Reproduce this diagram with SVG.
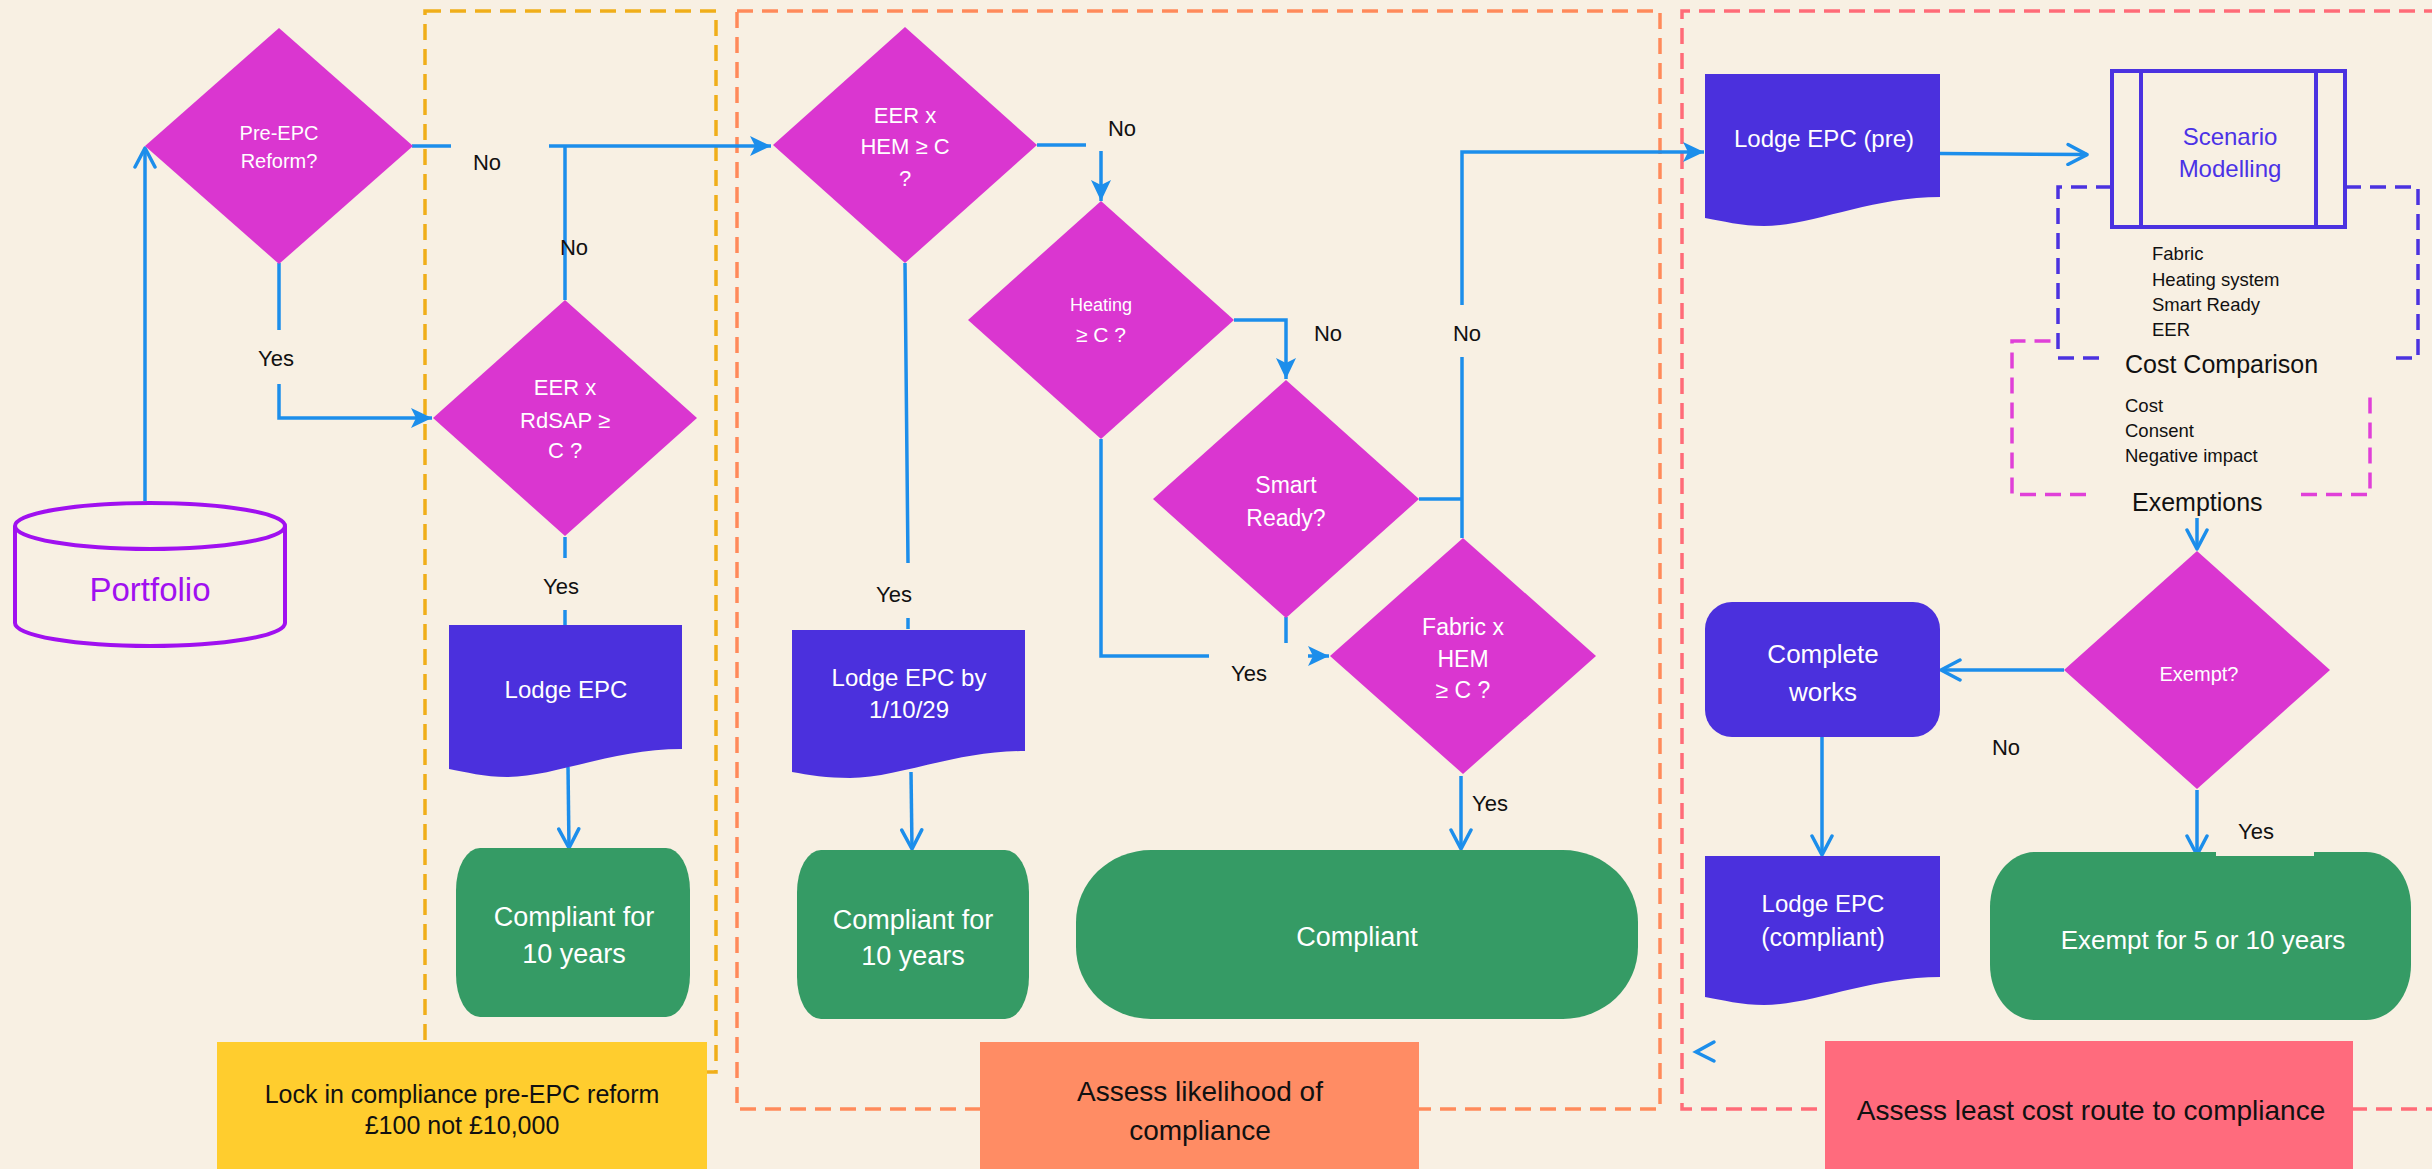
<svg xmlns="http://www.w3.org/2000/svg" width="2432" height="1169" viewBox="0 0 2432 1169">
<defs>
<style>
.bg{fill:#F8F0E3}
.dia{fill:#DA36D0}
.doc{fill:#4B30DD}
.grn{fill:#359B65}
.wt{fill:#FFFFFF;font-family:"Liberation Sans",Arial,sans-serif;text-anchor:middle;dominant-baseline:central}
.lb{fill:#111111;font-family:"Liberation Sans",Arial,sans-serif;text-anchor:middle;dominant-baseline:central}
.ls{fill:#111111;font-family:"Liberation Sans",Arial,sans-serif;text-anchor:start;dominant-baseline:central}
.con{fill:none;stroke:#1C8EEB;stroke-width:3.5}
.dash{fill:none;stroke-width:3.5;stroke-dasharray:16 9}
</style>
<marker id="open" viewBox="0 0 24 24" refX="22" refY="12" markerWidth="24" markerHeight="24" markerUnits="userSpaceOnUse" orient="auto">
<path d="M3,2 L22,12 L3,22" fill="none" stroke="#1C8EEB" stroke-width="3.5" stroke-linecap="round" stroke-linejoin="round"/>
</marker>
<marker id="fill" viewBox="0 0 22 22" refX="21" refY="11" markerWidth="22" markerHeight="22" markerUnits="userSpaceOnUse" orient="auto">
<path d="M0,1 L21,11 L0,21 L5,11 z" fill="#1C8EEB"/>
</marker>
</defs>
<rect class="bg" x="0" y="0" width="2432" height="1169"/>

<g id="regions">
<rect class="dash" x="425" y="11" width="291" height="1061" stroke="#F0AE1A"/>
<rect class="dash" x="737" y="11" width="923" height="1098" stroke="#FF8A5B"/>
<path class="dash" d="M2440,11 H1682 V1109 H2440" stroke="#FF6B78"/>
<path class="dash" d="M2112,187 H2058 V358 H2103 M2345,187 H2418 V358 H2396" stroke="#4B32E0"/>
<path class="dash" d="M2086,494.5 H2012 V341 H2058 M2301,494.5 H2370 V393" stroke="#E040D8"/>
</g>

<g id="connectors">
<path class="con" d="M145,501 V148" marker-end="url(#open)"/>
<path class="con" d="M412,146 H451"/>
<path class="con" d="M549,146 H771" marker-end="url(#fill)"/>
<path class="con" d="M565,300 V146"/>
<path class="con" d="M279,263 V330"/>
<path class="con" d="M279,384 V418 H432" marker-end="url(#fill)"/>
<path class="con" d="M565,537 V558 M565,610 V626"/>
<path class="con" d="M568,767 L569,848" marker-end="url(#open)"/>
<path class="con" d="M1037,145 H1086"/>
<path class="con" d="M1101,151 V201" marker-end="url(#fill)"/>
<path class="con" d="M905,263 L908,563 M908,618 V629"/>
<path class="con" d="M911,772 L912,849" marker-end="url(#open)"/>
<path class="con" d="M1234,320 H1286 V379" marker-end="url(#fill)"/>
<path class="con" d="M1101,439 V656 H1209"/>
<path class="con" d="M1308,656 H1329" marker-end="url(#fill)"/>
<path class="con" d="M1286,617 V643"/>
<path class="con" d="M1419,499 H1462 M1462,538 V357"/>
<path class="con" d="M1462,305 V152 H1704" marker-end="url(#fill)"/>
<path class="con" d="M1461,776 V849" marker-end="url(#open)"/>
<path class="con" d="M1940,153.5 L2087,154.6" marker-end="url(#open)"/>
<path class="con" d="M2197,518 V549" marker-end="url(#open)"/>
<path class="con" d="M2064,670 H1941" marker-end="url(#open)"/>
<path class="con" d="M1822,737 V855" marker-end="url(#open)"/>
<path class="con" d="M2197,790 V855" marker-end="url(#open)"/>
<path class="con" d="M1714,1042 L1696,1052 L1714,1061" stroke-linecap="round"/>
</g>

<g id="edge-labels">
<text class="lb" x="487" y="162" font-size="22">No</text>
<text class="lb" x="574" y="247" font-size="22">No</text>
<text class="lb" x="276" y="358" font-size="22">Yes</text>
<text class="lb" x="561" y="586" font-size="22">Yes</text>
<text class="lb" x="1122" y="128" font-size="22">No</text>
<text class="lb" x="894" y="594" font-size="22">Yes</text>
<text class="lb" x="1328" y="333" font-size="22">No</text>
<text class="lb" x="1467" y="333" font-size="22">No</text>
<text class="lb" x="1249" y="673" font-size="22">Yes</text>
<text class="lb" x="1490" y="803" font-size="22">Yes</text>
<text class="lb" x="2006" y="747" font-size="22">No</text>
</g>

<g id="portfolio">
<path d="M15,526 V623 A135,23 0 0 0 285,623 V526" fill="none" stroke="#A010F0" stroke-width="4"/>
<ellipse cx="150" cy="526" rx="135" ry="23" fill="none" stroke="#A010F0" stroke-width="4"/>
<text x="150" y="589" font-size="33" fill="#A010F0" font-family="Liberation Sans,Arial,sans-serif" text-anchor="middle" dominant-baseline="central">Portfolio</text>
</g>

<g id="pre-epc">
<polygon class="dia" points="279,28 413,146 279,264 145,146"/>
<text class="wt" x="279" y="133" font-size="20">Pre-EPC</text>
<text class="wt" x="279" y="161" font-size="20">Reform?</text>
</g>

<g id="eer-rdsap">
<polygon class="dia" points="565,300 697,418 565,536 433,418"/>
<text class="wt" x="565" y="387" font-size="22">EER x</text>
<text class="wt" x="565" y="420" font-size="22">RdSAP ≥</text>
<text class="wt" x="565" y="450" font-size="22">C ?</text>
</g>

<g id="lodge-epc">
<path class="doc" d="M449,625 H682 V749 C612,749 554,777 507,777 C485,777 465,772 449,769 Z"/>
<text class="wt" x="566" y="689" font-size="24">Lodge EPC</text>
</g>

<g id="compliant-10a">
<rect class="grn" x="456" y="848" width="234" height="169" rx="24" ry="42"/>
<text class="wt" x="574" y="917" font-size="27">Compliant for</text>
<text class="wt" x="574" y="954" font-size="27">10 years</text>
</g>

<g id="eer-hem">
<polygon class="dia" points="905,27 1037,145 905,263 773,145"/>
<text class="wt" x="905" y="115" font-size="22">EER x</text>
<text class="wt" x="905" y="146" font-size="22">HEM ≥ C</text>
<text class="wt" x="905" y="178" font-size="22">?</text>
</g>

<g id="heating">
<polygon class="dia" points="1101,201 1234,320 1101,439 968,320"/>
<text class="wt" x="1101" y="305" font-size="18">Heating</text>
<text class="wt" x="1101" y="334" font-size="21">≥ C ?</text>
</g>

<g id="smart-ready">
<polygon class="dia" points="1286,380 1419,499 1286,618 1153,499"/>
<text class="wt" x="1286" y="485" font-size="23">Smart</text>
<text class="wt" x="1286" y="518" font-size="23">Ready?</text>
</g>

<g id="fabric-hem">
<polygon class="dia" points="1463,538 1596,656 1463,774 1330,656"/>
<text class="wt" x="1463" y="627" font-size="23">Fabric x</text>
<text class="wt" x="1463" y="659" font-size="23">HEM</text>
<text class="wt" x="1463" y="690" font-size="23">≥ C ?</text>
</g>

<g id="lodge-epc-by">
<path class="doc" d="M792,630 H1025 V751 C955,751 897,778 850,778 C828,778 808,775 792,772 Z"/>
<text class="wt" x="909" y="677" font-size="24">Lodge EPC by</text>
<text class="wt" x="909" y="709" font-size="24">1/10/29</text>
</g>

<g id="compliant-10b">
<rect class="grn" x="797" y="850" width="232" height="169" rx="24" ry="42"/>
<text class="wt" x="913" y="920" font-size="27">Compliant for</text>
<text class="wt" x="913" y="956" font-size="27">10 years</text>
</g>

<g id="compliant">
<rect class="grn" x="1076" y="850" width="562" height="169" rx="75" ry="72"/>
<text class="wt" x="1357" y="937" font-size="27">Compliant</text>
</g>

<g id="lodge-epc-pre">
<path class="doc" d="M1705,74 H1940 V197 C1870,197 1812,226 1764,226 C1742,226 1722,221 1705,218 Z"/>
<text class="wt" x="1824" y="138" font-size="24">Lodge EPC (pre)</text>
</g>

<g id="scenario-modelling">
<rect x="2112" y="71" width="233" height="156" fill="none" stroke="#4B32E0" stroke-width="4"/>
<line x1="2141" y1="71" x2="2141" y2="227" stroke="#4B32E0" stroke-width="4"/>
<line x1="2316" y1="71" x2="2316" y2="227" stroke="#4B32E0" stroke-width="4"/>
<text x="2230" y="136" font-size="24" fill="#4B32E6" font-family="Liberation Sans,Arial,sans-serif" text-anchor="middle" dominant-baseline="central">Scenario</text>
<text x="2230" y="168" font-size="24" fill="#4B32E6" font-family="Liberation Sans,Arial,sans-serif" text-anchor="middle" dominant-baseline="central">Modelling</text>
</g>

<g id="modelling-notes">
<text class="ls" x="2152" y="253" font-size="18.5">Fabric</text>
<text class="ls" x="2152" y="279" font-size="18.5">Heating system</text>
<text class="ls" x="2152" y="304" font-size="18.5">Smart Ready</text>
<text class="ls" x="2152" y="329" font-size="18.5">EER</text>
<text class="ls" x="2125" y="364" font-size="25">Cost Comparison</text>
<text class="ls" x="2125" y="405" font-size="18.5">Cost</text>
<text class="ls" x="2125" y="430" font-size="18.5">Consent</text>
<text class="ls" x="2125" y="455" font-size="18.5">Negative impact</text>
<text class="ls" x="2132" y="502" font-size="25">Exemptions</text>
</g>

<g id="exempt">
<polygon class="dia" points="2197,551 2330,670 2197,789 2064,670"/>
<text class="wt" x="2199" y="674" font-size="20">Exempt?</text>
</g>

<g id="complete-works">
<rect x="1705" y="602" width="235" height="135" rx="27" ry="27" fill="#4B30DD"/>
<text class="wt" x="1823" y="654" font-size="26">Complete</text>
<text class="wt" x="1823" y="692" font-size="26">works</text>
</g>

<g id="lodge-epc-compliant">
<path class="doc" d="M1705,856 H1940 V977 C1870,977 1812,1005 1764,1005 C1742,1005 1722,1000 1705,997 Z"/>
<text class="wt" x="1823" y="903" font-size="24">Lodge EPC</text>
<text class="wt" x="1823" y="937" font-size="25">(compliant)</text>
</g>

<g id="exempt-5-10">
<rect class="grn" x="1990" y="852" width="421" height="168" rx="45" ry="55"/>
<rect class="bg" x="2216" y="848" width="98" height="8"/>
<text class="wt" x="2203" y="940" font-size="26">Exempt for 5 or 10 years</text>
<text class="lb" x="2256" y="831" font-size="22">Yes</text>
</g>

<g id="label-lock">
<rect x="217" y="1042" width="490" height="130" fill="#FFCD2E"/>
<text class="lb" x="462" y="1094" font-size="25">Lock in compliance pre-EPC reform</text>
<text class="lb" x="462" y="1125" font-size="25">£100 not £10,000</text>
</g>

<g id="label-assess">
<rect x="980" y="1042" width="439" height="130" fill="#FF8C64"/>
<text class="lb" x="1200" y="1091" font-size="28">Assess likelihood of</text>
<text class="lb" x="1200" y="1130" font-size="28">compliance</text>
</g>

<g id="label-least-cost">
<rect x="1825" y="1041" width="528" height="130" fill="#FF6B7D"/>
<text class="lb" x="2091" y="1110" font-size="28">Assess least cost route to compliance</text>
</g>
</svg>
